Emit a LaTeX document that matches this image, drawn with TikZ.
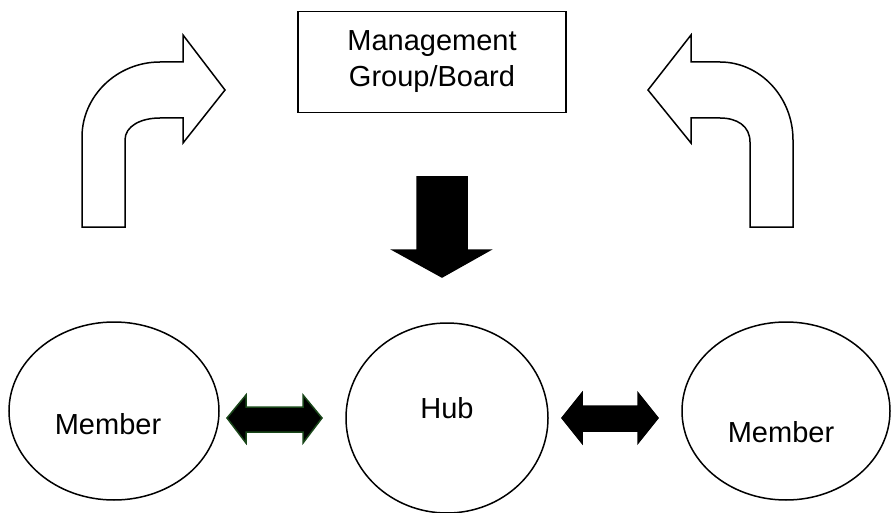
\documentclass[tikz,border=0pt]{standalone}
\usepackage{fontspec}
\setmainfont{Liberation Sans}
\usetikzlibrary{shapes.geometric, positioning, calc}
\definecolor{darkGreen}{RGB}{25,70,25}

\begin{document}
\begin{tikzpicture}[x=1pt, y=-1pt, line width=1.5pt,
  every node/.style={font=\fontsize{29}{36}\selectfont, align=center},
  boardBox/.style={rectangle, draw, minimum width=268pt, minimum height=101pt, inner sep=0pt},
  blob/.style={ellipse, draw, inner sep=0pt},
  bentArrow/.style={draw, fill=white, line join=miter},
  solidArrow/.style={draw, fill=black, line join=miter}]
\useasboundingbox (0,0) rectangle (891,513);

\node (board) [boardBox] at (432,62) {Management\\Group/Board};

\node (memberL) [blob, minimum width=210pt, minimum height=178pt] at (114,411) {};
\node (hub) [blob, minimum width=202pt, minimum height=190pt] at (447,418) {};
\node (memberR) [blob, minimum width=208pt, minimum height=178pt] at (786,411) {};
\node (memberLText) at (108,424) {Member};
\node (hubText) at (447,408) {Hub};
\node (memberRText) at (781,432) {Member};

% bent arrows towards the board
\draw[bentArrow] (82,227) -- (125,227) -- (125,140) .. controls (125,126) and (141,118) .. (160,118) -- (183,118) -- (183,143) -- (225,90) -- (183,35) -- (183,62) -- (160,62) .. controls (117,62) and (82,96) .. (82,137) -- cycle;
\draw[bentArrow] (793,227) -- (750,227) -- (750,142) .. controls (750,126) and (737,118) .. (720,118) -- (691,118) -- (691,143) -- (648,90) -- (691,35) -- (691,62) -- (720,62) .. controls (760,62) and (793,97) .. (793,140) -- cycle;

% board down to hub
\draw[solidArrow] (417,177) -- (467,177) -- (467,250) -- (490,250) -- (442,277) -- (393,250) -- (417,250) -- cycle;

% hub and members
\draw[solidArrow, draw=darkGreen] (227,418) -- (246,395) -- (246,407) -- (303,407) -- (303,395) -- (322,418) -- (303,443) -- (303,432) -- (246,432) -- (246,443) -- cycle;
\draw[solidArrow] (562,418) -- (582,393) -- (582,406) -- (638,406) -- (638,393) -- (658,418) -- (638,443) -- (638,431) -- (582,431) -- (582,443) -- cycle;
\end{tikzpicture}
\end{document}
